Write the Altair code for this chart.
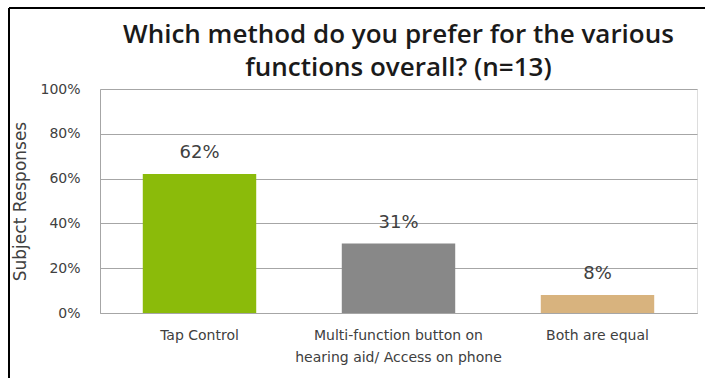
import altair as alt
import pandas as pd

# Survey answers and share of subjects choosing each
methods = [
    "Tap Control",
    "Multi-function button on|hearing aid/ Access on phone",
    "Both are equal",
]
shares = [0.62, 0.31, 0.08]
bar_colors = ["#8BBB0A", "#888888", "#D8B37E"]
pct_ticks = [0, 0.2, 0.4, 0.6, 0.8, 1.0]

df = pd.DataFrame({"method": methods, "share": shares, "color": bar_colors})

FONT = "DejaVu Sans"
TITLE_FONT = "Open Sans"
TEXT = "#404040"
GRID = "#A6A6A6"

x_enc = alt.X(
    "method:N",
    sort=methods,
    title=None,
    scale=alt.Scale(paddingInner=0.43, paddingOuter=0.215),
    axis=alt.Axis(
        labelAngle=0,
        labelExpr="split(datum.label, '|')",
        labelLineHeight=22,
        labelFont=FONT,
        labelFontSize=14,
        labelColor=TEXT,
        labelPadding=15,
        labelBaseline="top",
        ticks=False,
        domainColor=GRID,
        labelLimit=300,
    ),
)

y_enc = alt.Y(
    "share:Q",
    title="Subject Responses",
    scale=alt.Scale(domain=[0, 1], nice=False),
    axis=alt.Axis(
        values=pct_ticks,
        format=".0%",
        grid=True,
        gridColor=GRID,
        domainColor=GRID,
        ticks=False,
        labelFont=FONT,
        labelFontSize=14,
        labelColor=TEXT,
        labelPadding=20,
        titleFont=FONT,
        titleFontSize=17,
        titleFontWeight="normal",
        titleColor=TEXT,
        titlePadding=10,
    ),
)

bars = alt.Chart(df).mark_bar().encode(
    x=x_enc,
    y=y_enc,
    color=alt.Color("color:N", scale=None),
)

labels = alt.Chart(df).mark_text(
    baseline="bottom", dy=-12, fontSize=18, font=FONT, color=TEXT
).encode(
    x=alt.X("method:N", sort=methods),
    y="share:Q",
    text=alt.Text("share:Q", format=".0%"),
)

# Outer frame of the figure (left and top edges)
frame_left = alt.Chart(df).mark_rule(color="black", strokeWidth=2, clip=False).encode(
    x=alt.value(-91), y=alt.value(-81), y2=alt.value(300)
)
frame_top = alt.Chart(df).mark_rule(color="black", strokeWidth=2, clip=False).encode(
    x=alt.value(-91), x2=alt.value(620), y=alt.value(-81)
)

chart = (
    alt.layer(bars, labels, frame_left, frame_top)
    .properties(
        width=597,
        height=224,
        title=alt.TitleParams(
            ["Which method do you prefer for the various", "functions overall? (n=13)"],
            font=TITLE_FONT,
            fontSize=26,
            fontWeight=600,
            color="#1A1A1A",
            anchor="middle",
            frame="group",
            lineHeight=33,
            offset=0,
            dy=74,
        ),
        autosize=alt.AutoSizeParams(type="none"),
        padding={"left": 100, "top": 89, "right": 8, "bottom": 65},
    )
    .configure_view(stroke=None)
    .configure(background="white")
)

chart.save("out.html", embed_options={"renderer": "svg", "actions": False})
